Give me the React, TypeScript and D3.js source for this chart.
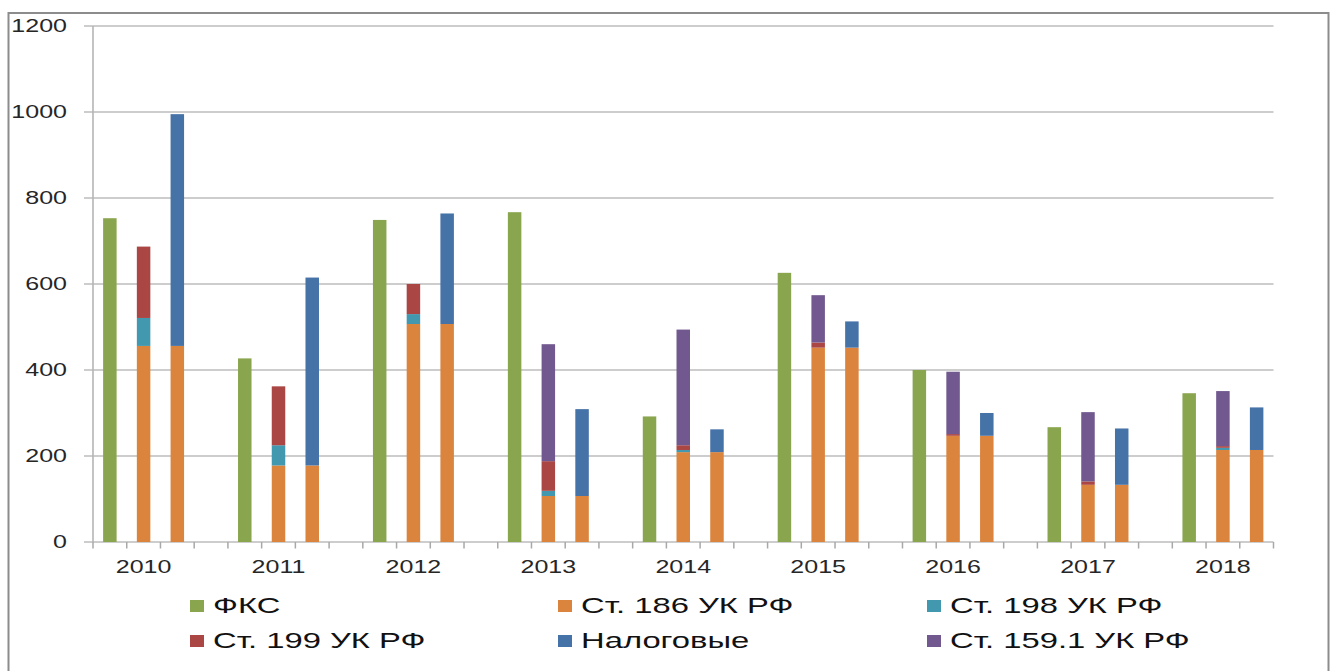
import React from "react";
import * as d3 from "d3";

const years = ["2010", "2011", "2012", "2013", "2014", "2015", "2016", "2017", "2018"];
const fks = [753, 427, 749, 767, 292, 626, 400, 267, 346];
const st186 = [456, 178, 507, 107, 209, 452, 247, 133, 214];
const st198 = [65, 47, 23, 12, 5, 0, 0, 0, 5];
const st199 = [166, 137, 70, 69, 11, 12, 4, 8, 4];
const st159 = [0, 0, 0, 272, 269, 110, 145, 161, 128];
const nalog = [539, 437, 257, 202, 53, 61, 53, 131, 99];
const yTicks = [0, 200, 400, 600, 800, 1000, 1200];

const legendItems = [
  { name: "ФКС", color: "#89A54E" },
  { name: "Ст. 186 УК РФ", color: "#DB843D" },
  { name: "Ст. 198 УК РФ", color: "#4198AF" },
  { name: "Ст. 199 УК РФ", color: "#AA4643" },
  { name: "Налоговые", color: "#4572A7" },
  { name: "Ст. 159.1 УК РФ", color: "#71588F" },
];
const C = {
  fks: "#89A54E",
  st186: "#DB843D",
  st198: "#4198AF",
  st199: "#AA4643",
  nalog: "#4572A7",
  st159: "#71588F",
};

const W = 1336;
const H = 671;
const X0 = 93;
const X1 = 1273.5;
const Y0 = 542;
const Y1 = 26;
const SX = 1.43;
const SXL = 1.49;
const FONT = "'Liberation Sans', Arial, sans-serif";

export default function App() {
  const nSlots = years.length * 4 - 1;
  const x = d3
    .scaleBand<number>()
    .domain(d3.range(nSlots))
    .range([X0, X1])
    .paddingInner(0.6)
    .paddingOuter(0.3);
  const step = x.step();
  const y = d3.scaleLinear().domain([0, 1200]).range([Y0, Y1]);
  const bw = x.bandwidth();

  const bars: { x: number; y0: number; y1: number; color: string }[] = [];
  years.forEach((_, i) => {
    const s0 = i * 4;
    bars.push({ x: x(s0)!, y0: 0, y1: fks[i], color: C.fks });
    const segs2 = [
      [st186[i], C.st186],
      [st198[i], C.st198],
      [st199[i], C.st199],
      [st159[i], C.st159],
    ] as [number, string][];
    let acc = 0;
    segs2.forEach(([v, c]) => {
      if (v > 0) bars.push({ x: x(s0 + 1)!, y0: acc, y1: acc + v, color: c });
      acc += v;
    });
    const segs3 = [
      [st186[i], C.st186],
      [nalog[i], C.nalog],
    ] as [number, string][];
    acc = 0;
    segs3.forEach(([v, c]) => {
      if (v > 0) bars.push({ x: x(s0 + 2)!, y0: acc, y1: acc + v, color: c });
      acc += v;
    });
  });

  const boundaries = d3.range(nSlots + 1).map((j) => X0 + j * step);
  const legendCols = [190, 558, 927];
  const legendRows = [613, 648];

  return (
    <svg
      width={W}
      height={H}
      style={{ position: "absolute", left: 0, top: 0, background: "#fff" }}
    >
      <rect x={0} y={0} width={W} height={H} fill="#fff" />
      <rect x={8.5} y={13} width={1320} height={700} fill="#fff" stroke="#8c8c8c" strokeWidth={2} />
      {yTicks.map((t) => (
        <line key={"g" + t} x1={84} x2={X1} y1={y(t)} y2={y(t)} stroke="#bdbdbd" strokeWidth={1.6} />
      ))}
      <line x1={X0} x2={X0} y1={Y1} y2={Y0} stroke="#b5b5b5" strokeWidth={1.6} />
      {boundaries.map((bx, j) => (
        <line key={"t" + j} x1={bx} x2={bx} y1={Y0} y2={Y0 + 6.5} stroke="#a8a8a8" strokeWidth={1.5} />
      ))}
      {bars.map((b, k) => (
        <rect
          key={"b" + k}
          x={b.x}
          y={y(b.y1)}
          width={bw}
          height={y(b.y0) - y(b.y1)}
          fill={b.color}
        />
      ))}
      {yTicks.map((t) => (
        <g key={"yl" + t} transform={`translate(67,${y(t) + 6}) scale(${SX},1)`}>
          <text textAnchor="end" fontFamily={FONT} fontSize={17.5} fill="#262626">
            {t}
          </text>
        </g>
      ))}
      {years.map((yr, i) => (
        <g key={"xl" + yr} transform={`translate(${x(i * 4 + 1)! + bw / 2},573) scale(${SX},1)`}>
          <text textAnchor="middle" fontFamily={FONT} fontSize={17.5} fill="#262626">
            {yr}
          </text>
        </g>
      ))}
      {legendItems.map((it, k) => {
        const cx = legendCols[k % 3];
        const cy = legendRows[Math.floor(k / 3)];
        return (
          <g key={"lg" + k}>
            <rect x={cx} y={cy - 13} width={14} height={12} fill={it.color} />
            <g transform={`translate(${cx + 23},${cy}) scale(${SXL},1)`}>
              <text fontFamily={FONT} fontSize={22} fill="#111">
                {it.name}
              </text>
            </g>
          </g>
        );
      })}
    </svg>
  );
}
